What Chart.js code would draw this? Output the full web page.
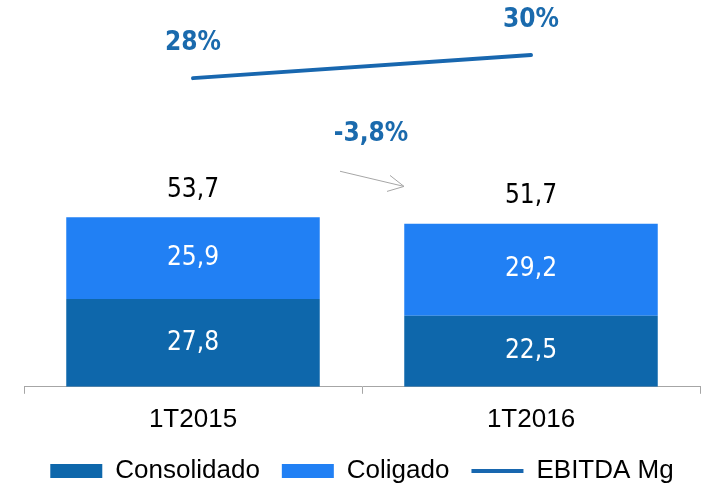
<!DOCTYPE html>
<html>
<head>
<meta charset="utf-8">
<script src="https://cdn.jsdelivr.net/npm/chart.js@4.4.1/dist/chart.umd.min.js"></script>
<style>
  html, body { margin: 0; padding: 0; background: #fff; }
  #wrap { width: 701px; height: 488px; }
</style>
</head>
<body>
<div id="wrap"><canvas id="c" width="701" height="488"></canvas></div>
<script>
// data
const periods = ['1T2015', '1T2016'];
const consolidado = [27.8, 22.5];
const coligado = [25.9, 29.2];
const totals = [53.7, 51.7];
const ebitdaMg = [28, 30];
const variation = '-3,8%';

const DARK = '#0E67AB', LIGHT = '#2180F4', LINE = '#1867AF';
const numFont = "'DejaVu Sans Condensed', 'DejaVu Sans', sans-serif";

function fmt(v){ return v.toFixed(1).replace('.', ','); }

// labels inside / above the bars, margin labels and the arrow
const labelsPlugin = {
	id: 'labels',
	afterDatasetsDraw(chart){
		const ctx = chart.ctx;
		const x = chart.scales.x, y = chart.scales.y;
		ctx.save();
		ctx.textAlign = 'center';
		ctx.textBaseline = 'middle';
		// segment values
		[0, 1].forEach(di => {
			const meta = chart.getDatasetMeta(di);
			meta.data.forEach((bar, i) => {
				ctx.font = '26px ' + numFont;
				ctx.fillStyle = '#fff';
				ctx.fillText(fmt(chart.data.datasets[di].data[i]), bar.x, (bar.y + bar.base) / 2);
			});
		});
		// totals
		const top = chart.getDatasetMeta(1);
		top.data.forEach((bar, i) => {
			ctx.font = '26px ' + numFont;
			ctx.fillStyle = '#000';
			ctx.fillText(fmt(totals[i]), bar.x, bar.y - 27);
		});
		// margin labels
		const line = chart.getDatasetMeta(2);
		line.data.forEach((pt, i) => {
			ctx.font = 'bold 26px ' + numFont;
			ctx.fillStyle = '#1A6AAD';
			ctx.fillText(ebitdaMg[i] + '%', pt.x, pt.y - 35);
		});
		// variation arrow
		const mid = (x.getPixelForValue(0) + x.getPixelForValue(1)) / 2;
		ctx.font = 'bold 26px ' + numFont;
		ctx.fillStyle = '#1A6AAD';
		ctx.fillText(variation, mid + 9, y.getPixelForValue(80));
		const x0 = mid - 22, y0 = y.getPixelForValue(68.3);
		const x1 = mid + 42, y1 = y.getPixelForValue(63.5);
		ctx.strokeStyle = '#A6A6A6';
		ctx.lineWidth = 1;
		ctx.beginPath();
		ctx.moveTo(x0, y0); ctx.lineTo(x1, y1);
		ctx.moveTo(x1 - 14, y1 - 11); ctx.lineTo(x1, y1); ctx.lineTo(x1 - 17, y1 + 5);
		ctx.stroke();
		ctx.restore();
	}
};

new Chart(document.getElementById('c'), {
	data: {
		labels: periods,
		datasets: [
			{ type: 'bar', label: 'Consolidado', data: consolidado, backgroundColor: DARK, yAxisID: 'y', pointStyle: 'rect', order: 2 },
			{ type: 'bar', label: 'Coligado', data: coligado, backgroundColor: LIGHT, yAxisID: 'y', pointStyle: 'rect', order: 2 },
			{ type: 'line', label: 'EBITDA Mg', data: ebitdaMg, borderColor: LINE, backgroundColor: LINE, borderWidth: 4,
			  pointRadius: 0, pointStyle: 'line', yAxisID: 'y1', order: 1, borderCapStyle: 'round' }
		]
	},
	options: {
		responsive: false,
		animation: false,
		layout: { padding: { top: 10, left: 24, right: 1, bottom: -6 } },
		datasets: { bar: { categoryPercentage: 1, barPercentage: 0.75 } },
		scales: {
			x: {
				stacked: true,
				offset: true,
				grid: { offset: true, drawOnChartArea: false, drawTicks: true, tickLength: 7, color: '#A6A6A6' },
				border: { display: true, color: '#A6A6A6', width: 1 },
				ticks: { color: '#000', font: { family: "'Liberation Sans', Arial, sans-serif", size: 26 }, padding: 10 },
				afterFit: (s) => { s.height -= 9; }
			},
			y: { stacked: true, display: false, min: 0, max: 119.4 },
			y1: { display: false, min: 1.22, max: 33.91 }
		},
		plugins: {
			legend: {
				position: 'bottom',
				labels: {
					usePointStyle: true,
					pointStyleWidth: 52,
					boxHeight: 14,
					padding: 22,
					color: '#000',
					sort: (a, b) => a.datasetIndex - b.datasetIndex,
					font: { family: "'Liberation Sans', Arial, sans-serif", size: 26 }
				}
			},
			tooltip: { enabled: false }
		}
	},
	plugins: [labelsPlugin]
});
</script>
</body>
</html>
